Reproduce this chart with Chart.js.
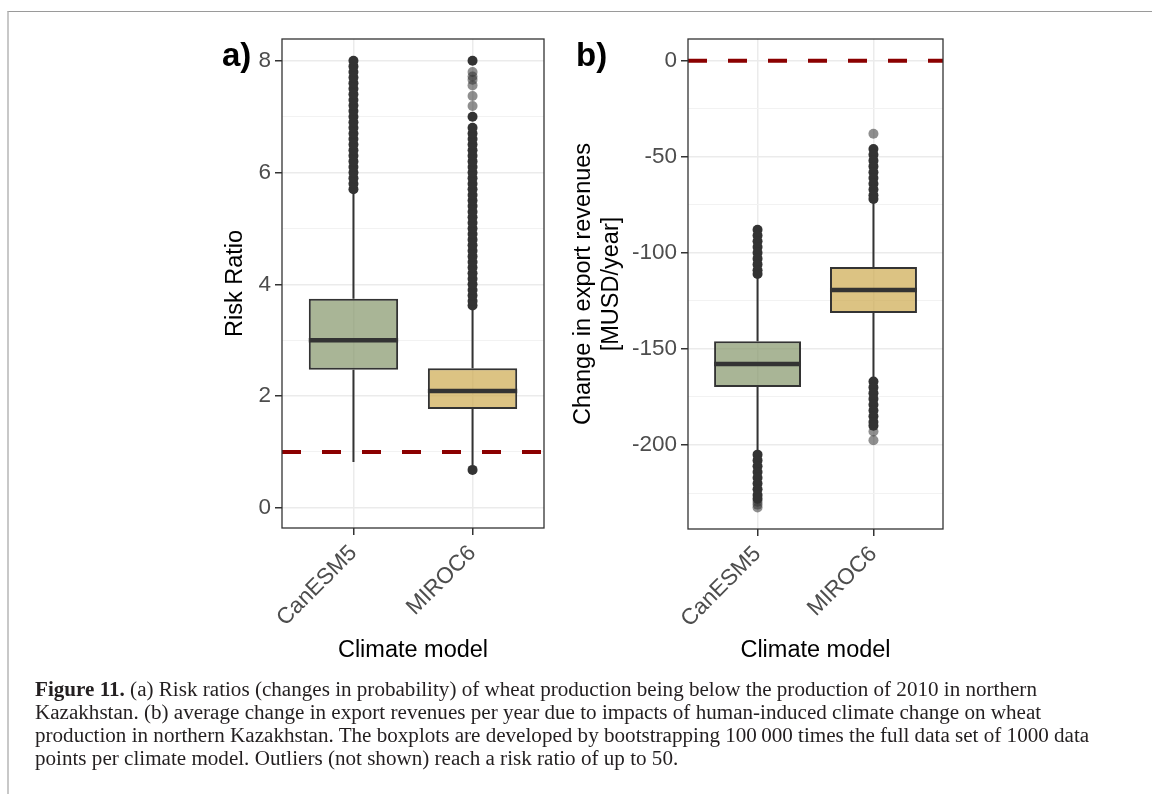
<!DOCTYPE html>
<html>
<head>
<meta charset="utf-8">
<script src="https://cdn.jsdelivr.net/npm/chart.js@4.4.1/dist/chart.umd.min.js"></script>
<style>
  html, body { margin: 0; padding: 0; background: #fff; }
  body { width: 1152px; height: 794px; position: relative; overflow: hidden; font-family: "Liberation Sans", Arial, sans-serif; }
  .frame { position: absolute; left: 7px; top: 11px; width: 1145px; height: 783px; border-top: 1px solid #9a9a9a; border-left: 2px solid #c8c8c8; box-sizing: border-box; }
  .wrap { position: absolute; top: 0; width: 415px; height: 680px; }
  .tag { position: absolute; top: 38px; font: bold 33px/33px "Liberation Sans", Arial, sans-serif; color: #000; }
  .caption { position: absolute; left: 35px; top: 678px; font-family: "Liberation Serif", "Times New Roman", serif; font-size: 21.1px; line-height: 23px; color: #231f20; white-space: nowrap; }
</style>
</head>
<body>
<div class="frame"></div>
<div class="wrap" style="left:150px"><canvas id="chartA" width="415" height="680"></canvas></div>
<div class="wrap" style="left:565px"><canvas id="chartB" width="415" height="680"></canvas></div>
<div class="tag" style="left:222px">a)</div>
<div class="tag" style="left:576px">b)</div>
<div class="caption"><b>Figure 11.</b> (a) Risk ratios (changes in probability) of wheat production being below the production of 2010 in northern<br>Kazakhstan. (b) average change in export revenues per year due to impacts of human-induced climate change on wheat<br>production in northern Kazakhstan. The boxplots are developed by bootstrapping 100&#8201;000 times the full data set of 1000 data<br>points per climate model. Outliers (not shown) reach a risk ratio of up to 50.</div>
<script>
// ---------- data ----------
const categories = ['CanESM5', 'MIROC6'];

// Panel a: Risk ratio
const riskWhiskerLow  = [0.82, 0.76];
const riskQ1          = [2.47, 1.77];
const riskMedian      = [3.00, 2.09];
const riskQ3          = [3.74, 2.50];
const riskWhiskerHigh = [5.65, 3.58];
const riskOutliersDenseCanESM5 = [5.70, 5.80, 5.90, 6.00, 6.10, 6.20, 6.30, 6.40, 6.50, 6.60, 6.70, 6.80, 6.90, 7.00, 7.10, 7.20, 7.30, 7.40, 7.50, 7.60, 7.70, 7.80, 7.90, 8.00];
const riskOutliersDenseMIROC6  = [0.68, 3.62, 3.70, 3.80, 3.90, 4.00, 4.10, 4.20, 4.30, 4.40, 4.50, 4.60, 4.70, 4.80, 4.90, 5.00, 5.10, 5.20, 5.30, 5.40, 5.50, 5.60, 5.70, 5.80, 5.90, 6.00, 6.10, 6.20, 6.30, 6.40, 6.50, 6.60, 6.70, 6.80, 7.00, 8.00];
const riskOutliersSparseCanESM5 = [];
const riskOutliersSparseMIROC6  = [7.19, 7.37, 7.56, 7.66, 7.72, 7.80];
const riskReference = 1;
const riskTicks = [0, 2, 4, 6, 8];
const riskMinorTicks = [1, 3, 5, 7];

// Panel b: change in export revenues
const exportWhiskerLow  = [-203.5, -166.0];
const exportQ1          = [-169.8, -131.3];
const exportMedian      = [-157.8, -119.3];
const exportQ3          = [-146.0, -107.3];
const exportWhiskerHigh = [-112.0, -73.0];
const exportOutliersDenseCanESM5 = [-88, -91, -94, -97, -100, -103, -106, -109, -111, -205, -208, -211, -214, -217, -220, -223, -226, -228];
const exportOutliersDenseMIROC6  = [-46, -49, -52, -55, -58, -61, -64, -67, -70, -72, -167, -170, -173, -176, -179, -182, -185, -188, -190];
const exportOutliersSparseCanESM5 = [-229.5, -231, -232.5];
const exportOutliersSparseMIROC6  = [-38, -193, -197.5];
const exportReference = 0;
const exportTicks = [-200, -150, -100, -50, 0];
const exportMinorTicks = [-225, -175, -125, -75, -25];

// ---------- styling ----------
const boxFills = ['rgba(133,149,105,0.7)', 'rgba(205,169,78,0.7)'];
const dark = '#333333';
const tickColor = '#4d4d4d';
const boxWidth = 0.75;
const xMin = 0.4, xMax = 2.6;
const tickFont = {family: 'Liberation Sans', size: 22.5};
const titleFont = {family: 'Liberation Sans', size: 23.5, lineHeight: 1.2};

function buildDatasets(p) {
  const whiskers = [], medians = [];
  categories.forEach((c, i) => {
    const x = i + 1;
    whiskers.push({x: x, y: p.wLow[i]}, {x: x, y: p.q1[i]}, {x: x, y: null},
                  {x: x, y: p.q3[i]}, {x: x, y: p.wHigh[i]}, {x: x, y: null});
    medians.push({x: x - boxWidth / 2, y: p.med[i]}, {x: x + boxWidth / 2, y: p.med[i]}, {x: x, y: null});
  });
  const dense = [], sparse = [];
  p.dense.forEach((arr, i) => arr.forEach(v => dense.push({x: i + 1, y: v})));
  p.sparse.forEach((arr, i) => arr.forEach(v => sparse.push({x: i + 1, y: v})));
  return [
    {type: 'line', data: [{x: xMin, y: p.ref}, {x: xMax, y: p.ref}], borderColor: '#8b0000', borderWidth: 4,
     borderDash: [19, 21], pointRadius: 0, fill: false, order: 6},
    {type: 'line', data: whiskers, borderColor: dark, borderWidth: 2, pointRadius: 0, fill: false, spanGaps: false, order: 5},
    {type: 'bar', data: categories.map((c, i) => ({x: i + 1, y: [p.q1[i], p.q3[i]]})),
     backgroundColor: boxFills, borderColor: dark, borderWidth: 2, borderSkipped: false,
     barPercentage: boxWidth, categoryPercentage: 1, order: 4},
    {type: 'line', data: medians, borderColor: dark, borderWidth: 4.5, pointRadius: 0, fill: false, spanGaps: false, order: 3},
    {type: 'scatter', data: sparse, backgroundColor: 'rgba(51,51,51,0.55)', borderWidth: 0, pointRadius: 5, order: 2},
    {type: 'scatter', data: dense, backgroundColor: dark, borderWidth: 0, pointRadius: 5, order: 1}
  ];
}

const panelBorder = {
  id: 'panelBorder',
  afterDraw(chart) {
    const {ctx, chartArea: a} = chart;
    ctx.save();
    ctx.strokeStyle = dark;
    ctx.lineWidth = 1.3;
    ctx.strokeRect(a.left, a.top, a.right - a.left, a.bottom - a.top);
    ctx.restore();
  }
};

function makeChart(id, p) {
  const allTicks = p.ticks.concat(p.minor).sort((a, b) => a - b);
  const isMajor = v => p.ticks.includes(v);
  return new Chart(document.getElementById(id), {
    type: 'scatter',
    data: {datasets: buildDatasets(p)},
    plugins: [panelBorder],
    options: {
      responsive: false,
      animation: false,
      events: [],
      layout: {padding: {top: 39, right: p.padRight, bottom: 0, left: 0}},
      plugins: {legend: {display: false}, tooltip: {enabled: false}},
      scales: {
        x: {
          type: 'linear', min: xMin, max: xMax, offset: false,
          afterBuildTicks: s => { s.ticks = categories.map((c, i) => ({value: i + 1})); },
          afterFit: s => { s.height = p.xHeight; },
          ticks: {callback: v => categories[Math.round(v) - 1], autoSkip: false, minRotation: 45, maxRotation: 45,
                  color: tickColor, font: tickFont, padding: 5},
          grid: {color: '#ebebeb', lineWidth: 1.5, offset: false, tickLength: 7, tickColor: dark, tickWidth: 1.5, drawTicks: true},
          border: {display: false},
          title: {display: true, text: 'Climate model', color: '#000', font: titleFont, padding: {top: 0, bottom: 15}}
        },
        y: {
          type: 'linear', min: p.yMin, max: p.yMax,
          afterBuildTicks: s => { s.ticks = allTicks.map(v => ({value: v})); },
          afterFit: s => { s.width = p.yWidth; },
          ticks: {callback: v => isMajor(v) ? String(v) : '', autoSkip: false,
                  color: tickColor, font: tickFont, padding: 4},
          grid: {
            color: c => (c.tick && isMajor(c.tick.value)) ? '#ebebeb' : '#f2f2f2',
            lineWidth: c => (c.tick && isMajor(c.tick.value)) ? 1.5 : 1,
            tickColor: c => (c.tick && isMajor(c.tick.value)) ? dark : 'rgba(0,0,0,0)',
            tickLength: 7, tickWidth: 1.5
          },
          border: {display: false},
          title: {display: true, text: p.yTitle, color: '#000', font: titleFont, padding: {top: p.yTitlePad, bottom: 0}}
        }
      }
    }
  });
}

makeChart('chartA', {
  wLow: riskWhiskerLow, q1: riskQ1, med: riskMedian, q3: riskQ3, wHigh: riskWhiskerHigh,
  dense: [riskOutliersDenseCanESM5, riskOutliersDenseMIROC6],
  sparse: [riskOutliersSparseCanESM5, riskOutliersSparseMIROC6],
  ref: riskReference, ticks: riskTicks, minor: riskMinorTicks,
  yMin: -0.36, yMax: 8.39, yTitle: 'Risk Ratio', yTitlePad: 71,
  yWidth: 132, xHeight: 152, padRight: 21
});

makeChart('chartB', {
  wLow: exportWhiskerLow, q1: exportQ1, med: exportMedian, q3: exportQ3, wHigh: exportWhiskerHigh,
  dense: [exportOutliersDenseCanESM5, exportOutliersDenseMIROC6],
  sparse: [exportOutliersSparseCanESM5, exportOutliersSparseMIROC6],
  ref: exportReference, ticks: exportTicks, minor: exportMinorTicks,
  yMin: -243.7, yMax: 11.3, yTitle: ['Change in export revenues', '[MUSD/year]'], yTitlePad: 4,
  yWidth: 123, xHeight: 151, padRight: 37
});
</script>
</body>
</html>
